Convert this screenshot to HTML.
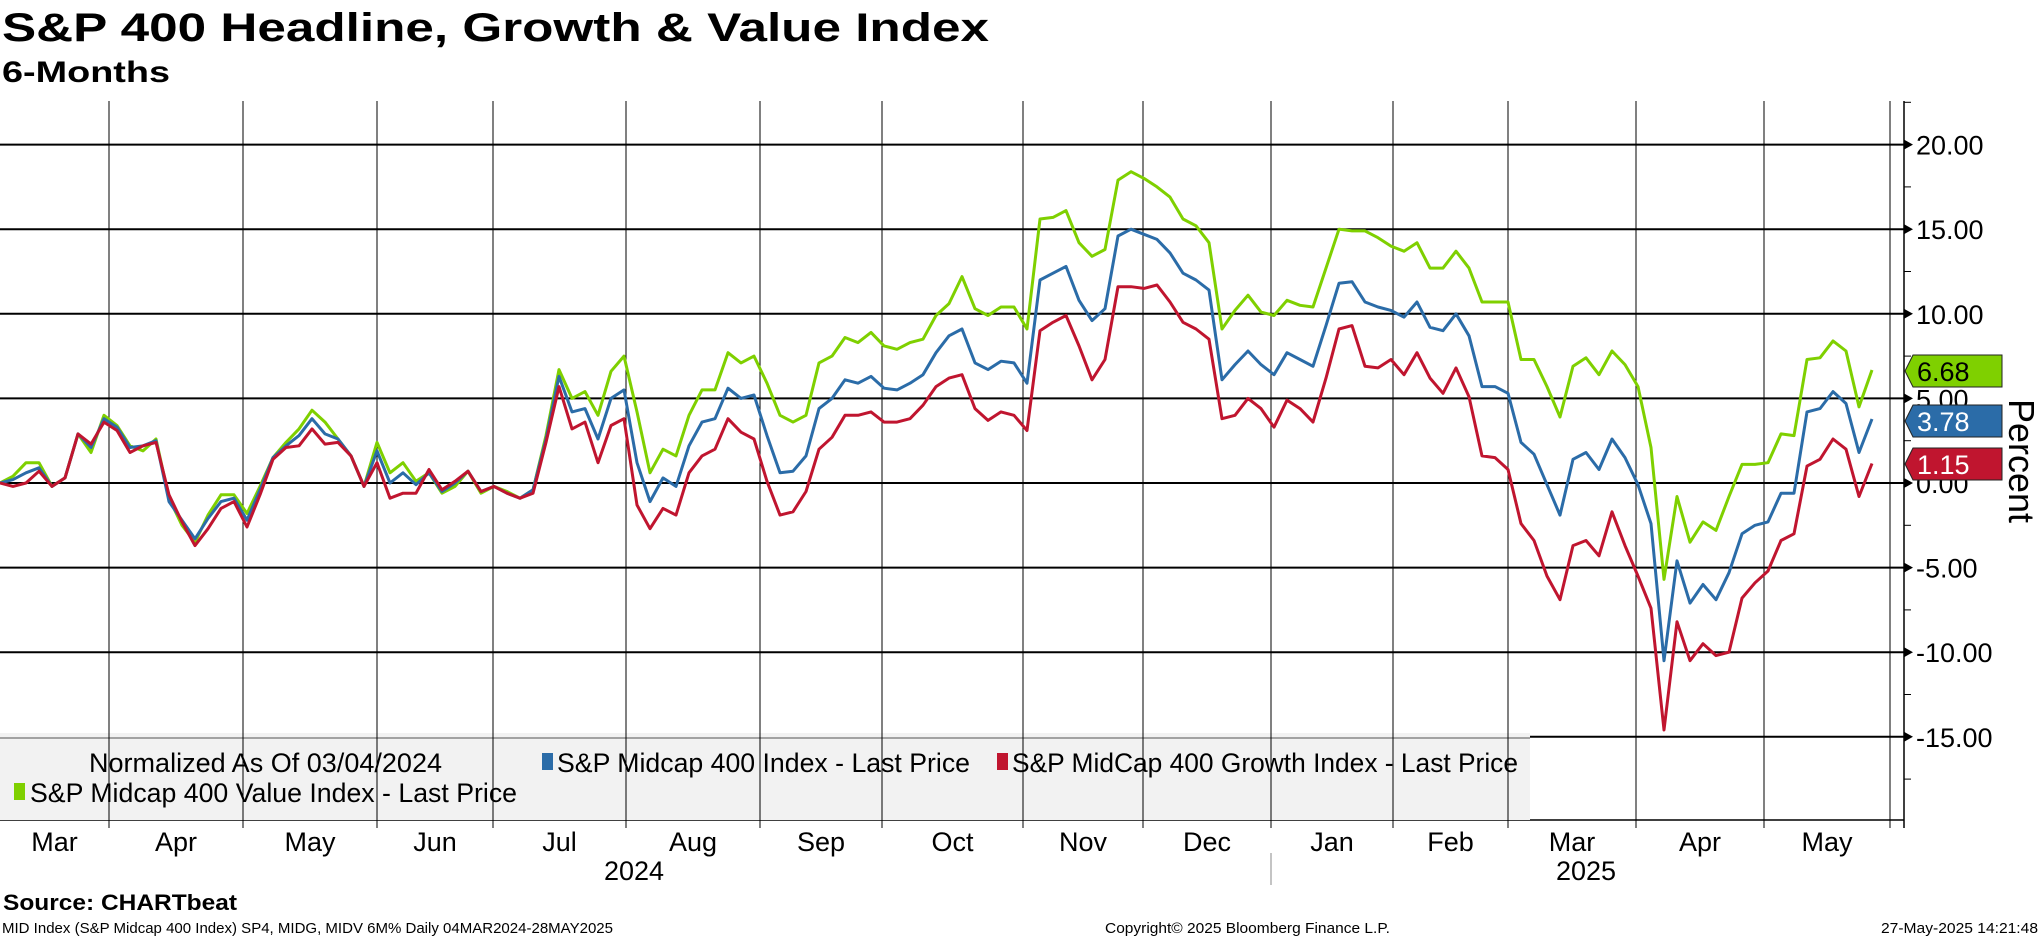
<!DOCTYPE html>
<html><head><meta charset="utf-8"><style>
html,body{margin:0;padding:0;background:#fff;}
svg{display:block;font-family:"Liberation Sans",sans-serif;}
</style></head><body>
<svg id="chart" width="2041" height="936" viewBox="0 0 2041 936" xmlns="http://www.w3.org/2000/svg">
<rect x="0" y="0" width="2041" height="936" fill="#fff"/>
<text x="2" y="41" font-size="40" font-weight="bold" textLength="987" lengthAdjust="spacingAndGlyphs">S&amp;P 400 Headline, Growth &amp; Value Index</text>
<text x="2" y="82" font-size="30" font-weight="bold" textLength="168" lengthAdjust="spacingAndGlyphs">6-Months</text>
<g id="grid"></g>
<rect x="0" y="733" width="1530" height="87" fill="#f2f2f2"/>
<line x1="0" y1="738" x2="1530" y2="738" stroke="#888" stroke-width="1.5"/>
<g id="vgrid"></g>
<g id="series"></g>
<g id="axis"></g>
<g id="xaxis"></g>
<g font-size="27">
<text x="89" y="772" textLength="353" lengthAdjust="spacingAndGlyphs">Normalized As Of 03/04/2024</text>
<rect x="542" y="753" width="11" height="17" fill="#2b6ca8"/>
<text x="557" y="772" textLength="413" lengthAdjust="spacingAndGlyphs">S&amp;P Midcap 400 Index - Last Price</text>
<rect x="997" y="753" width="11" height="17" fill="#c0152f"/>
<text x="1012" y="772" textLength="506" lengthAdjust="spacingAndGlyphs">S&amp;P MidCap 400 Growth Index - Last Price</text>
<rect x="14" y="783" width="11" height="17" fill="#7fd000"/>
<text x="30" y="802" textLength="487" lengthAdjust="spacingAndGlyphs">S&amp;P Midcap 400 Value Index - Last Price</text>
</g>
<g id="tags"></g>
<text transform="translate(2009,461) rotate(90)" font-size="36" text-anchor="middle">Percent</text>
<text x="3" y="910" font-size="22" font-weight="bold" textLength="234" lengthAdjust="spacingAndGlyphs">Source: CHARTbeat</text>
<text x="2" y="933" font-size="15" textLength="611" lengthAdjust="spacingAndGlyphs">MID Index (S&amp;P Midcap 400 Index) SP4, MIDG, MIDV 6M%  Daily 04MAR2024-28MAY2025</text>
<text x="1105" y="933" font-size="15" textLength="285" lengthAdjust="spacingAndGlyphs">Copyright© 2025 Bloomberg Finance L.P.</text>
<text x="2038" y="933" font-size="15" text-anchor="end" textLength="157" lengthAdjust="spacingAndGlyphs">27-May-2025 14:21:48</text>
</svg>
<script>
const headline=[0,0.2,0.6,0.9,-0.2,0.3,2.9,2.1,3.8,3.3,2.1,2.2,2.5,-1.1,-2.2,-3.3,-2.1,-1.1,-0.9,-2.2,-0.4,1.5,2.2,2.8,3.8,2.9,2.6,1.6,-0.2,1.9,0,0.6,-0.1,0.6,-0.5,0,0.7,-0.5,-0.2,-0.6,-0.9,-0.4,2.6,6.3,4.2,4.4,2.6,5.0,5.5,1.2,-1.1,0.3,-0.2,2.2,3.6,3.8,5.6,5.0,5.2,2.8,0.6,0.7,1.6,4.4,5.0,6.1,5.9,6.3,5.6,5.5,5.9,6.4,7.7,8.7,9.1,7.1,6.7,7.2,7.1,5.9,12.0,12.4,12.8,10.8,9.6,10.3,14.6,15.0,14.7,14.4,13.6,12.4,12.0,11.4,6.1,7.0,7.8,7.0,6.4,7.7,7.3,6.9,9.3,11.8,11.9,10.7,10.4,10.2,9.8,10.7,9.2,9.0,10.0,8.7,5.7,5.7,5.3,2.4,1.7,-0.1,-1.9,1.4,1.8,0.8,2.6,1.5,-0.1,-2.4,-10.5,-4.6,-7.1,-6.0,-6.9,-5.3,-3.0,-2.5,-2.3,-0.6,-0.6,4.2,4.4,5.4,4.7,1.8,3.78];
const growth=[0,-0.2,0,0.7,-0.2,0.3,2.9,2.3,3.6,3.1,1.8,2.2,2.4,-0.7,-2.3,-3.7,-2.7,-1.5,-1.1,-2.6,-0.7,1.4,2.1,2.2,3.2,2.3,2.4,1.6,-0.2,1.2,-0.9,-0.6,-0.6,0.8,-0.4,0.1,0.7,-0.5,-0.2,-0.6,-0.9,-0.6,2.4,5.7,3.2,3.6,1.2,3.4,3.8,-1.3,-2.7,-1.5,-1.9,0.6,1.6,2.0,3.8,3.0,2.6,0.1,-1.9,-1.7,-0.5,2.0,2.7,4.0,4.0,4.2,3.6,3.6,3.8,4.6,5.7,6.2,6.4,4.4,3.7,4.2,4.0,3.1,9.0,9.5,9.9,8.1,6.1,7.3,11.6,11.6,11.5,11.7,10.7,9.5,9.1,8.5,3.8,4.0,5.0,4.4,3.3,4.9,4.4,3.6,6.2,9.1,9.3,6.9,6.8,7.3,6.4,7.7,6.2,5.3,6.8,5.1,1.6,1.5,0.8,-2.4,-3.4,-5.5,-6.9,-3.7,-3.4,-4.3,-1.7,-3.7,-5.5,-7.4,-14.6,-8.2,-10.5,-9.5,-10.2,-10.0,-6.8,-5.9,-5.2,-3.4,-3.0,1.0,1.4,2.6,2.0,-0.8,1.15];
const valueIdx=[0,0.4,1.2,1.2,-0.2,0.3,2.9,1.8,4.0,3.4,2.2,1.9,2.6,-0.9,-2.5,-3.5,-1.9,-0.7,-0.7,-1.8,-0.2,1.5,2.4,3.2,4.3,3.6,2.6,1.6,-0.2,2.4,0.6,1.2,0.1,0.6,-0.6,-0.2,0.7,-0.6,-0.2,-0.5,-0.9,-0.4,2.8,6.7,5.0,5.4,4.0,6.6,7.5,4.2,0.6,2.0,1.6,4.0,5.5,5.5,7.7,7.1,7.5,5.9,4.0,3.6,4.0,7.1,7.5,8.6,8.3,8.9,8.1,7.9,8.3,8.5,9.9,10.6,12.2,10.3,9.9,10.4,10.4,9.1,15.6,15.7,16.1,14.2,13.4,13.8,17.9,18.4,18.0,17.5,16.9,15.6,15.2,14.2,9.1,10.2,11.1,10.1,9.9,10.8,10.5,10.4,12.7,15.0,14.9,14.9,14.5,14.0,13.7,14.2,12.7,12.7,13.7,12.7,10.7,10.7,10.7,7.3,7.3,5.7,3.9,6.9,7.4,6.4,7.8,7.0,5.7,2.1,-5.7,-0.8,-3.5,-2.3,-2.8,-0.8,1.1,1.1,1.2,2.9,2.8,7.3,7.4,8.4,7.8,4.5,6.68];
const yTickValues=[20,15,10,5,0,-5,-10,-15];
const yTickLabels=["20.00","15.00","10.00","5.00","0.00","-5.00","-10.00","-15.00"];
const monthLabels=["Mar","Apr","May","Jun","Jul","Aug","Sep","Oct","Nov","Dec","Jan","Feb","Mar","Apr","May"];
const yearLabels=["2024","2025"];
const lastValues=[6.68,3.78,1.15];

const NS="http://www.w3.org/2000/svg";
const X0=0,XN=1872,TOP=101,BOT=820,AX=1904;
function yScale(v){return 483-v*16.92;}
function xScale(i,n){return X0+(XN-X0)*i/(n-1);}
function mk(tag,attrs,parent){const e=document.createElementNS(NS,tag);for(const k in attrs)e.setAttribute(k,attrs[k]);parent.appendChild(e);return e;}
const grid=document.getElementById('grid'),vgrid=document.getElementById('vgrid'),series=document.getElementById('series'),axis=document.getElementById('axis'),xaxis=document.getElementById('xaxis'),tags=document.getElementById('tags');

yTickValues.forEach((v,i)=>{
  const y=yScale(v);
  const l=mk('line',{x1:0,y1:y,x2:AX,y2:y,stroke:'#000','stroke-width':2},grid);
  
  
  const p=mk('polygon',{points:`${AX},${y-5} ${AX+9},${y} ${AX},${y+5}`,fill:'#000'},axis);
  
  
  const t=mk('text',{x:AX+12,y:y+10,'font-size':27},axis);
  t.textContent=yTickLabels[i];
  
  
});
for(let v=-17.5;v<=22.5;v+=5){
  const y=yScale(v);
  const m=mk('line',{x1:AX,y1:y,x2:AX+7,y2:y,stroke:'#000','stroke-width':1},axis);
  
  
}
const ax=mk('line',{x1:AX,y1:TOP,x2:AX,y2:BOT+8,stroke:'#000','stroke-width':1.5},axis);


const bl=mk('line',{x1:0,y1:BOT,x2:AX,y2:BOT,stroke:'#000','stroke-width':1.5},grid);



const vx=[0,109,243,377,493,626,760,882,1023,1143,1271,1393,1508,1636,1764,1890];
vx.slice(1).forEach(x=>{
  const l=mk('line',{x1:x,y1:TOP,x2:x,y2:BOT+8,stroke:'#000','stroke-width':1},vgrid);
  
  
});
monthLabels.forEach((m,i)=>{
  const cx=(vx[i]+vx[i+1])/2;
  const t=mk('text',{x:cx,y:851,'font-size':27,'text-anchor':'middle'},xaxis);
  t.textContent=m;
  
  
});
[[634,yearLabels[0]],[1586,yearLabels[1]]].forEach(([x,s])=>{
  const t=mk('text',{x:x,y:880,'font-size':27,'text-anchor':'middle'},xaxis);
  t.textContent=s;
  
  
});
const sep=mk('line',{x1:1271,y1:853,x2:1271,y2:885,stroke:'#888','stroke-width':1},xaxis);



[[valueIdx,'#7fd000','line-value'],[headline,'#2b6ca8','line-headline'],[growth,'#c0152f','line-growth']].forEach(([d,c,n])=>{
  const pts=d.map((v,i)=>xScale(i,d.length).toFixed(1)+','+yScale(v).toFixed(1)).join(' ');
  const pl=mk('polyline',{points:pts,fill:'none',stroke:c,'stroke-width':3,'stroke-linejoin':'round'},series);
  
  
});

const tagY=[355,405,448];
const tagC=[['#7fd000','#000','tag-value'],['#2b6ca8','#fff','tag-headline'],['#c0152f','#fff','tag-growth']];
lastValues.forEach((v,i)=>{
  const y=tagY[i],h=32;
  const p=mk('polygon',{points:`1905,${y+h/2} 1913,${y} 2002,${y} 2002,${y+h} 1913,${y+h}`,fill:tagC[i][0],stroke:'#222','stroke-width':1},tags);
  
  
  const t=mk('text',{x:1917,y:y+26,'font-size':27,fill:tagC[i][1]},tags);
  t.textContent=v.toFixed(2);
  
  
});
</script>
</body></html>
